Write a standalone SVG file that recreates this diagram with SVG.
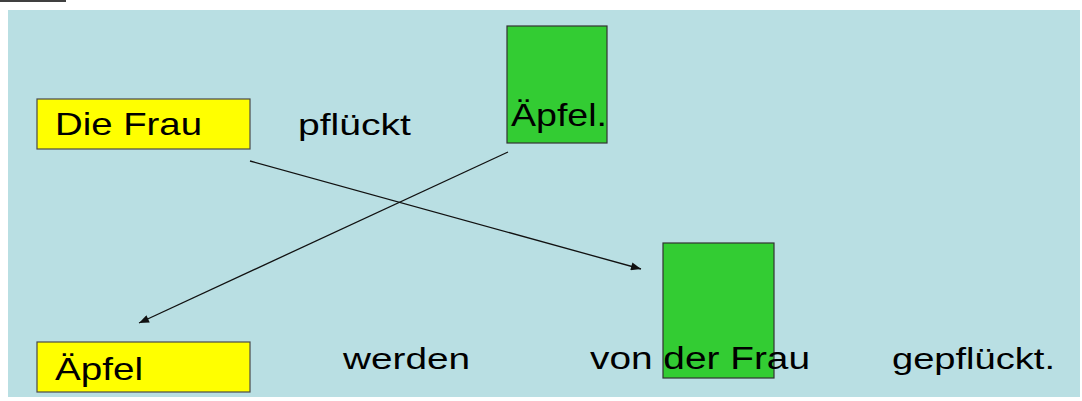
<svg xmlns="http://www.w3.org/2000/svg" width="1082" height="401" viewBox="0 0 1082 401">
<defs>
<style>
.bg{fill:#b9dfe3}
.y{fill:#ffff00;stroke:#4a4a4a;stroke-width:1.2}
.g{fill:#33cc33;stroke:#333333;stroke-width:1.2}
.t{font-family:"Liberation Sans",Arial,sans-serif;fill:#000}
.c{stroke:#111;stroke-width:1.3;fill:none;marker-end:url(#ah)}
</style>
<marker id="ah" viewBox="0 0 10 8" refX="10" refY="4" markerWidth="11" markerHeight="8" markerUnits="userSpaceOnUse" orient="auto">
<path d="M0,0 L10,4 L0,8 Z" fill="#111"/>
</marker>
</defs>
<rect x="0" y="0" width="1082" height="401" fill="#ffffff"/>
<line x1="0" y1="1" x2="66" y2="1" stroke="#000" stroke-width="1.5"/>
<rect class="bg" x="8" y="10" width="1072" height="387"/>
<g id="node-die-frau">
<rect class="y" x="37" y="99" width="213" height="50"/>
<text class="t" x="55" y="135" font-size="32" textLength="147" lengthAdjust="spacingAndGlyphs">Die Frau</text>
</g>
<g id="node-pflueckt">
<text class="t" x="298" y="135" font-size="29" textLength="113" lengthAdjust="spacingAndGlyphs">pflückt</text>
</g>
<g id="node-aepfel-top">
<rect class="g" x="507" y="26" width="100" height="117"/>
<text class="t" x="511" y="126" font-size="32" textLength="96" lengthAdjust="spacingAndGlyphs">Äpfel.</text>
</g>
<g id="node-aepfel-bottom">
<rect class="y" x="37" y="342" width="213" height="50"/>
<text class="t" x="55" y="380" font-size="32" textLength="88" lengthAdjust="spacingAndGlyphs">Äpfel</text>
</g>
<g id="node-werden">
<text class="t" x="343" y="369" font-size="29" textLength="127" lengthAdjust="spacingAndGlyphs">werden</text>
</g>
<g id="node-von-der-frau">
<rect class="g" x="663" y="243" width="111" height="135"/>
<text class="t" x="590" y="369" font-size="31" textLength="220" lengthAdjust="spacingAndGlyphs">von der Frau</text>
</g>
<g id="node-gepflueckt">
<text class="t" x="892" y="369" font-size="29" textLength="163" lengthAdjust="spacingAndGlyphs">gepflückt.</text>
</g>
<g id="connectors">
<line class="c" x1="250" y1="161" x2="641" y2="269"/>
<line class="c" x1="508" y1="152" x2="139" y2="323"/>
</g>
</svg>
